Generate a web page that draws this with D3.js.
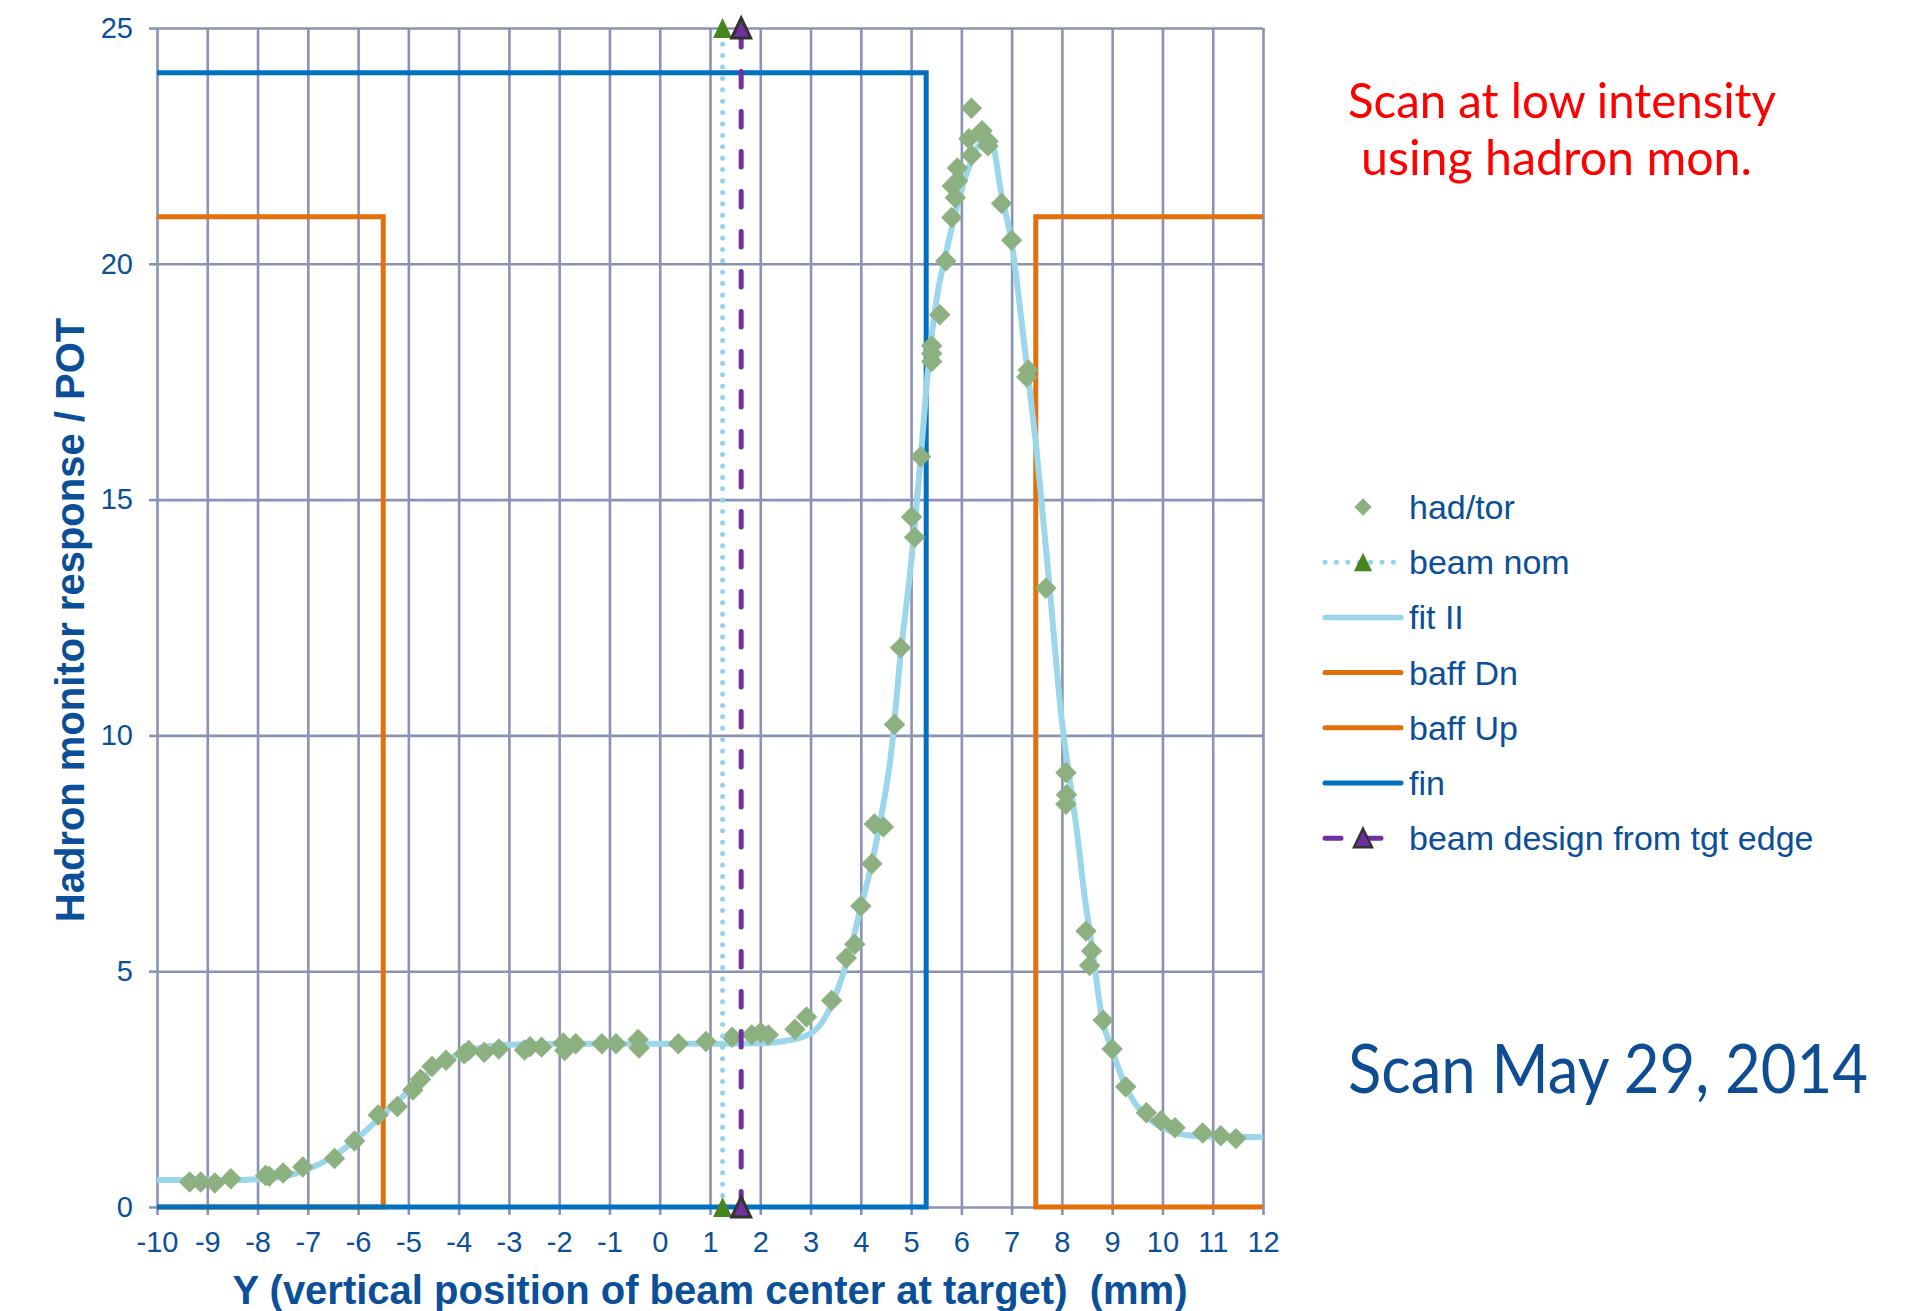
<!DOCTYPE html>
<html>
<head>
<meta charset="utf-8">
<script src="https://cdn.jsdelivr.net/npm/d3@7"></script>
<style>
  html, body { margin: 0; padding: 0; background: #fff; }
  svg { display: block; }
  text { font-family: "Liberation Sans", Arial, sans-serif; }
</style>
</head>
<body>
<svg id="chart" width="1921" height="1311"></svg>
<script>
// ---- data ----
const xTicks = [-10, -9, -8, -7, -6, -5, -4, -3, -2, -1, 0, 1, 2, 3, 4, 5, 6, 7, 8, 9, 10, 11, 12];
const yTicks = [0, 5, 10, 15, 20, 25];

// hadron monitor / toroid, [Y mm, response]
const hadTor = [
  [-9.35, 0.53], [-9.13, 0.53], [-8.85, 0.51], [-8.53, 0.60], [-7.84, 0.67], [-7.77, 0.65],
  [-7.49, 0.72], [-7.10, 0.85], [-6.47, 1.03], [-6.07, 1.40], [-5.60, 1.95], [-5.22, 2.13],
  [-4.91, 2.48], [-4.76, 2.71], [-4.53, 2.98], [-4.25, 3.11], [-3.89, 3.25], [-3.80, 3.32],
  [-3.49, 3.28], [-3.20, 3.35], [-2.69, 3.33], [-2.58, 3.40], [-2.35, 3.39], [-1.92, 3.48],
  [-1.89, 3.32], [-1.67, 3.46], [-1.15, 3.46], [-0.87, 3.46], [-0.43, 3.55], [-0.41, 3.37],
  [0.37, 3.46], [0.92, 3.51], [1.44, 3.60], [1.83, 3.65], [2.01, 3.70], [2.16, 3.65],
  [2.69, 3.77], [2.92, 4.03], [3.42, 4.38], [3.71, 5.28], [3.88, 5.57], [4.00, 6.38],
  [4.22, 7.28], [4.27, 8.12], [4.45, 8.06], [4.67, 10.23], [4.79, 11.86], [5.01, 14.63],
  [5.07, 14.20], [5.19, 15.91], [5.41, 18.26], [5.41, 18.10], [5.41, 17.93], [5.57, 18.92],
  [5.69, 20.06], [5.81, 20.98], [5.88, 21.40], [5.82, 21.65], [5.92, 21.76], [5.92, 22.03],
  [6.15, 22.65], [6.20, 22.30], [6.20, 23.30], [6.41, 22.82], [6.53, 22.60], [6.53, 22.50],
  [6.80, 21.28], [7.00, 20.50], [7.30, 17.60], [7.33, 17.75], [7.68, 13.12], [8.08, 9.21],
  [8.09, 8.74], [8.08, 8.54], [8.48, 5.85], [8.59, 5.43], [8.55, 5.12], [8.82, 3.96],
  [9.00, 3.35], [9.27, 2.55], [9.68, 2.00], [9.97, 1.83], [10.25, 1.68], [10.80, 1.57],
  [11.16, 1.51], [11.46, 1.45]
];

// fitted profile
const fitII = [
  [-10, 0.57], [-8.5, 0.57], [-8, 0.59], [-7.5, 0.64], [-7, 0.80], [-6.5, 1.07], [-6, 1.47],
  [-5.5, 1.96], [-5, 2.45], [-4.5, 2.92], [-4, 3.24], [-3.5, 3.39], [-3, 3.44], [-2, 3.46],
  [0, 3.46], [1, 3.46], [2, 3.47], [2.5, 3.52], [3, 3.68], [3.25, 3.95], [3.5, 4.50],
  [3.75, 5.30], [4.0, 6.35], [4.2, 7.20], [4.4, 8.25], [4.6, 9.60], [4.8, 11.80], [5.0, 13.65],
  [5.2, 16.00], [5.35, 17.90], [5.5, 19.20], [5.7, 20.25], [5.9, 21.15], [6.15, 22.05],
  [6.4, 22.55], [6.6, 22.55], [6.8, 21.45], [7.0, 20.45], [7.25, 18.30], [7.5, 16.00],
  [7.75, 13.20], [8.0, 10.30], [8.15, 9.10], [8.3, 7.95], [8.45, 6.60], [8.6, 5.50],
  [8.8, 4.00], [9.0, 3.33], [9.3, 2.48], [9.7, 1.90], [10.1, 1.63], [10.5, 1.52],
  [11, 1.49], [12, 1.48]
];

// apertures
const baffDn = [[-10, 21], [-5.5, 21], [-5.5, 0], [-10, 0]];
const baffUp = [[12, 21], [7.48, 21], [7.48, 0], [12, 0]];
const fin = [[-10, 24.05], [5.3, 24.05], [5.3, 0], [-10, 0]];

// beam positions
const beamNom = [[1.25, 0], [1.25, 25]];
const beamDesign = [[1.62, 0], [1.62, 25]];

const legendLabels = ["had/tor", "beam nom", "fit II", "baff Dn", "baff Up", "fin", "beam design from tgt edge"];

const xTitle = "Y (vertical position of beam center at target)  (mm)";
const yTitle = "Hadron monitor response / POT";
const noteLines = ["Scan at low intensity", "using hadron mon."];
const dateNote = "Scan May 29, 2014";

// ---- styles ----
const C = {
  grid: "#8A93B6",
  text: "#0B4F99",
  fit: "#9CD6EA",
  orange: "#E2700C",
  fin: "#0070C0",
  nom: "#92D4EA",
  design: "#7030A0",
  diamond: "#8CB07F",
  green: "#46861C",
  red: "#FF0000",
  date: "#0E4C94"
};

const svg = d3.select("#chart");
const plot = { left: 157, right: 1263, top: 28, bottom: 1207 };

const x = d3.scaleLinear().domain([-10, 12]).range([plot.left, plot.right]);
const y = d3.scaleLinear().domain([0, 25]).range([plot.bottom, plot.top]);

// ---- grid ----
const grid = svg.append("g");
grid.append("g")
  .attr("transform", `translate(0,${plot.bottom})`)
  .call(d3.axisBottom(x).tickValues(xTicks).tickSize(-(plot.bottom - plot.top)).tickFormat(""))
  .call(g => g.select(".domain").remove())
  .selectAll("line").attr("stroke", C.grid).attr("stroke-width", 2.6);
grid.append("g")
  .attr("transform", `translate(${plot.left},0)`)
  .call(d3.axisLeft(y).tickValues(yTicks).tickSize(-(plot.right - plot.left)).tickFormat(""))
  .call(g => g.select(".domain").remove())
  .selectAll("line").attr("stroke", C.grid).attr("stroke-width", 2.6);

// ---- axes (ticks + labels) ----
const plainNum = d => String(d);   // hyphen-minus in the labels
const xAxis = svg.append("g")
  .attr("transform", `translate(0,${plot.bottom})`)
  .call(d3.axisBottom(x).tickValues(xTicks).tickSize(8).tickPadding(16).tickFormat(plainNum));
xAxis.select(".domain").remove();
xAxis.selectAll("line").attr("stroke", C.grid).attr("stroke-width", 2.6);
xAxis.selectAll("text").attr("fill", C.text).style("font-size", "29px")
  .style("font-family", "'Liberation Sans', Arial, sans-serif");

const yAxis = svg.append("g")
  .attr("transform", `translate(${plot.left},0)`)
  .call(d3.axisLeft(y).tickValues(yTicks).tickSize(8).tickPadding(16).tickFormat(plainNum));
yAxis.select(".domain").remove();
yAxis.selectAll("line").attr("stroke", C.grid).attr("stroke-width", 2.6);
yAxis.selectAll("text").attr("fill", C.text).style("font-size", "29px")
  .style("font-family", "'Liberation Sans', Arial, sans-serif");

// ---- series ----
const lineGen = d3.line().x(d => x(d[0])).y(d => y(d[1]));

svg.append("path").datum(baffDn).attr("d", lineGen)
  .attr("fill", "none").attr("stroke", C.orange).attr("stroke-width", 5);
svg.append("path").datum(baffUp).attr("d", lineGen)
  .attr("fill", "none").attr("stroke", C.orange).attr("stroke-width", 5);
svg.append("path").datum(fin).attr("d", lineGen)
  .attr("fill", "none").attr("stroke", C.fin).attr("stroke-width", 5);

svg.append("path").datum(fitII)
  .attr("d", d3.line().x(d => x(d[0])).y(d => y(d[1])).curve(d3.curveMonotoneX))
  .attr("fill", "none").attr("stroke", C.fit).attr("stroke-width", 6).attr("stroke-linejoin", "round");

const diamond = d3.symbol(d3.symbolSquare, 230);
svg.append("g").selectAll("path").data(hadTor).join("path")
  .attr("d", diamond)
  .attr("transform", d => `translate(${x(d[0])},${y(d[1])}) rotate(45)`)
  .attr("fill", C.diamond);

svg.append("path").datum(beamNom).attr("d", lineGen)
  .attr("fill", "none").attr("stroke", C.nom).attr("stroke-width", 5)
  .attr("stroke-linecap", "round").attr("stroke-dasharray", "0 11.4");
svg.append("path").datum(beamDesign).attr("d", lineGen)
  .attr("fill", "none").attr("stroke", C.design).attr("stroke-width", 5)
  .attr("stroke-linecap", "round").attr("stroke-dasharray", "15.5 24.5");

// upright triangle marker centred on its point
const triType = {
  draw(ctx) {
    ctx.moveTo(0, -10);
    ctx.lineTo(9.5, 10);
    ctx.lineTo(-9.5, 10);
    ctx.closePath();
  }
};
const tri = d3.symbol(triType);
svg.append("g").selectAll("path").data(beamNom).join("path")
  .attr("d", tri).attr("transform", d => `translate(${x(d[0])},${y(d[1])})`)
  .attr("fill", C.green);
svg.append("g").selectAll("path").data(beamDesign).join("path")
  .attr("d", tri).attr("transform", d => `translate(${x(d[0])},${y(d[1])})`)
  .attr("fill", C.design).attr("stroke", "#333").attr("stroke-width", 3).attr("stroke-linejoin", "miter");

// ---- axis titles ----
svg.append("text")
  .attr("x", 710).attr("y", 1304)
  .attr("text-anchor", "middle")
  .style("white-space", "pre")
  .attr("fill", C.text).style("font-size", "40px").style("font-weight", "bold")
  .text(xTitle);
svg.append("text")
  .attr("transform", "translate(84,620) rotate(-90)")
  .attr("text-anchor", "middle")
  .attr("fill", C.text).style("font-size", "40px").style("font-weight", "bold")
  .text(yTitle);

// ---- legend ----
const legend = svg.append("g");
const lx0 = 1323, lx1 = 1401, lsym = 1363, ltext = 1409, ly0 = 507, ldy = 55.2;
const legTri = d3.symbol({
  draw(ctx) {
    ctx.moveTo(0, -9.5);
    ctx.lineTo(9, 9);
    ctx.lineTo(-9, 9);
    ctx.closePath();
  }
});
legendLabels.forEach((label, i) => {
  const cy = ly0 + i * ldy;
  const g = legend.append("g");
  if (i === 0) {
    g.append("path").attr("d", d3.symbol(d3.symbolSquare, 150))
      .attr("transform", `translate(${lsym},${cy}) rotate(45)`).attr("fill", C.diamond);
  } else if (i === 1) {
    g.append("line").attr("x1", lx0 + 2).attr("x2", lx1 - 4).attr("y1", cy).attr("y2", cy)
      .attr("stroke", C.nom).attr("stroke-width", 5).attr("stroke-linecap", "round")
      .attr("stroke-dasharray", "0 11.4");
    g.append("path").attr("d", legTri).attr("transform", `translate(${lsym},${cy})`).attr("fill", C.green);
  } else if (i === 6) {
    g.append("line").attr("x1", lx0 + 2).attr("x2", lx1 - 4).attr("y1", cy).attr("y2", cy)
      .attr("stroke", C.design).attr("stroke-width", 5).attr("stroke-linecap", "round")
      .attr("stroke-dasharray", "16 24");
    g.append("path").attr("d", legTri).attr("transform", `translate(${lsym},${cy})`)
      .attr("fill", C.design).attr("stroke", "#333").attr("stroke-width", 2.5);
  } else {
    const col = i === 2 ? C.fit : (i === 5 ? C.fin : C.orange);
    g.append("line").attr("x1", lx0 + 2).attr("x2", lx1).attr("y1", cy).attr("y2", cy)
      .attr("stroke", col).attr("stroke-width", i === 2 ? 5.5 : 5).attr("stroke-linecap", "round");
  }
  g.append("text").attr("x", ltext).attr("y", cy + 12)
    .attr("fill", C.text).style("font-size", "34px").text(label);
});

// ---- annotations ----
const note = svg.append("g");
note.append("text").attr("x", 1348).attr("y", 118)
  .attr("textLength", 428).attr("lengthAdjust", "spacingAndGlyphs")
  .attr("fill", C.red).style("font-size", "49px").style("font-family", "Lato, sans-serif")
  .text(noteLines[0]);
note.append("text").attr("x", 1361).attr("y", 175)
  .attr("textLength", 391).attr("lengthAdjust", "spacingAndGlyphs")
  .attr("fill", C.red).style("font-size", "49px").style("font-family", "Lato, sans-serif")
  .text(noteLines[1]);
note.append("text").attr("x", 1348).attr("y", 1093)
  .attr("textLength", 520).attr("lengthAdjust", "spacingAndGlyphs")
  .attr("fill", C.date).style("font-size", "67px").style("font-family", "Lato, sans-serif")
  .text(dateNote);
</script>
</body>
</html>
